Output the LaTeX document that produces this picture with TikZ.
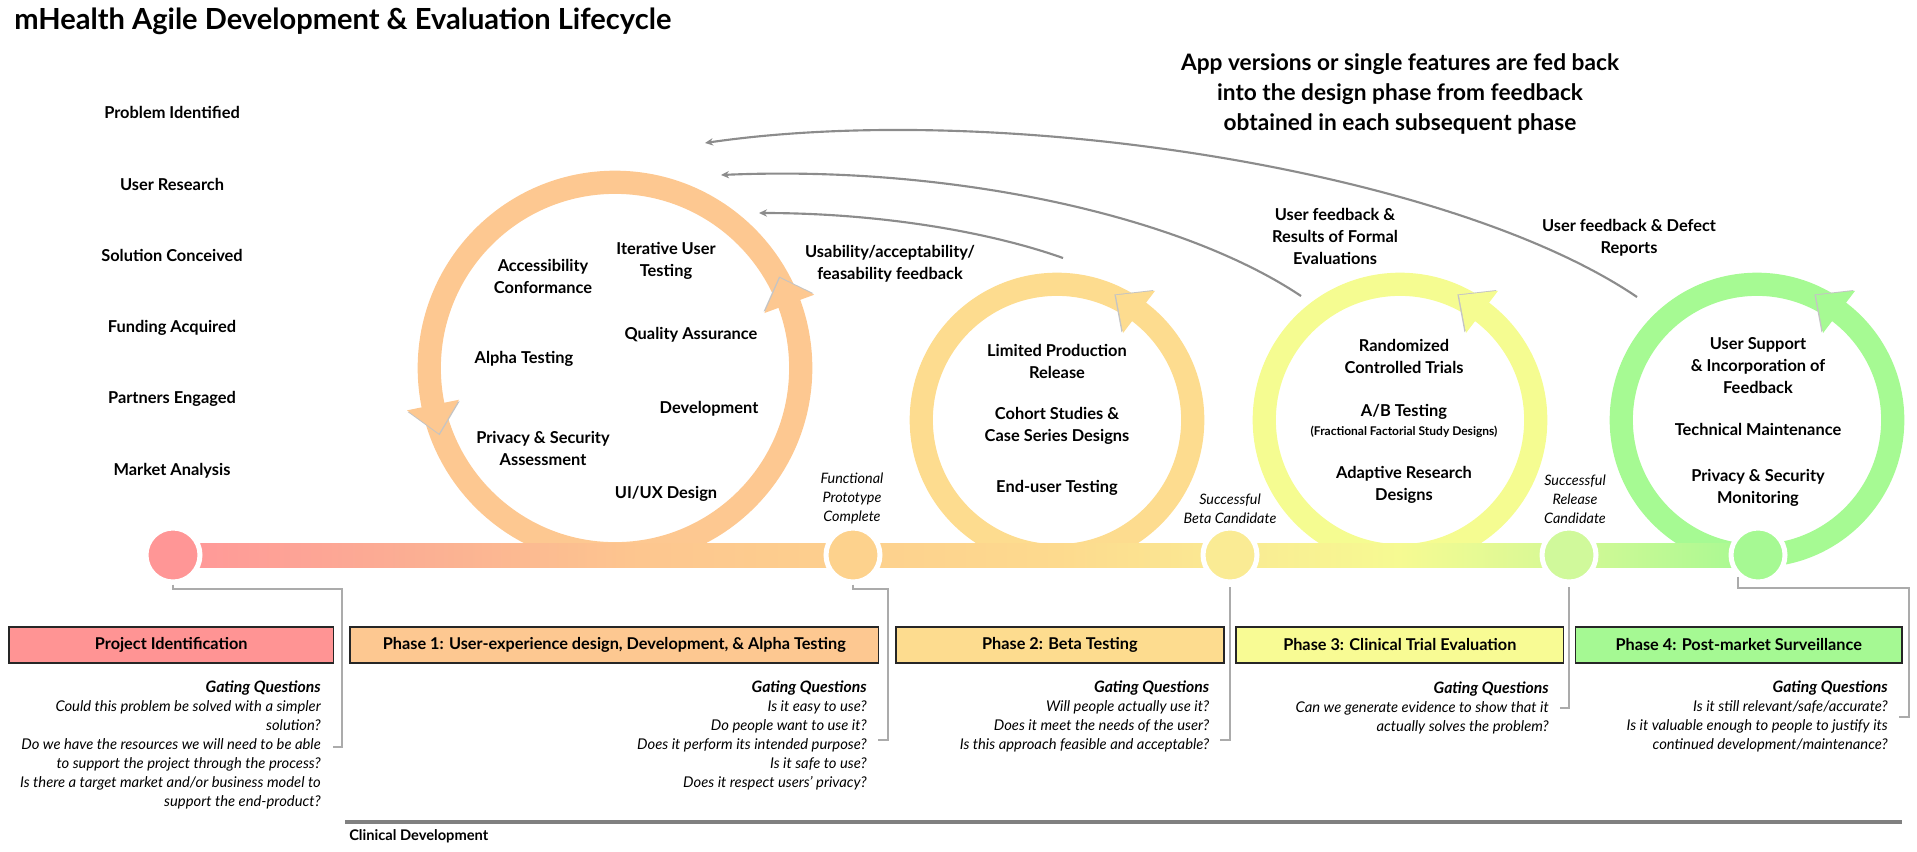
\documentclass[tikz,border=0pt]{standalone}
\usepackage{fontspec}
\setmainfont{Lato}
\usetikzlibrary{calc,arrows.meta}
\definecolor{b0}{HTML}{FF9A98}\definecolor{b1}{HTML}{FBAF93}\definecolor{b2}{HTML}{FDC68F}
\definecolor{b3}{HTML}{FDD08E}\definecolor{b4}{HTML}{FDDA8E}\definecolor{b5}{HTML}{FAEA93}
\definecolor{b6}{HTML}{F6FA92}\definecolor{b7}{HTML}{D4F996}\definecolor{b8}{HTML}{A8F992}
\definecolor{r1}{HTML}{FDC891}\definecolor{r2}{HTML}{FDDC8F}\definecolor{r3}{HTML}{F5FC91}\definecolor{r4}{HTML}{A6FA93}
\definecolor{m1}{HTML}{FF9696}\definecolor{m2}{HTML}{FDD28D}\definecolor{m3}{HTML}{FAEB94}\definecolor{m4}{HTML}{D0F99B}\definecolor{m5}{HTML}{A6F993}
\definecolor{bx0}{HTML}{FF9494}\definecolor{bx1}{HTML}{FDC891}\definecolor{bx2}{HTML}{FDDC8F}\definecolor{bx3}{HTML}{F8FB94}\definecolor{bx4}{HTML}{A5F993}
\definecolor{shad}{HTML}{C4C4C4}
\pgfdeclarehorizontalshading{barshade}{100bp}{color(0bp)=(b0); color(25.2bp)=(b0); color(32.2bp)=(b1); color(39.2bp)=(b2); color(46bp)=(b3); color(52.6bp)=(b4); color(58.1bp)=(b5); color(63.5bp)=(b6); color(69bp)=(b7); color(74.7bp)=(b8); color(100bp)=(b8)}
\newcommand\ringhead[8]{% center, base angle, outer r, inner r, tip angle, tip r, colour, shadow dir
  \fill[shad] ($(#1)+(#8:1.3pt)+(#2:#3)$) -- ($(#1)+(#8:1.3pt)+(#5:#6)$) -- ($(#1)+(#8:1.3pt)+(#2:#4)$) -- cycle;
  \fill[#7] ($(#1)+(#2:#3)$) -- ($(#1)+(#5:#6)$) -- ($(#1)+(#2:#4)$) -- cycle;}
\newcommand\gq{{\bfseries\fontsize{11.8}{14.25}\selectfont Gating Questions}}
\tikzset{
  lab/.style={font=\bfseries\fontsize{12.3}{16.5}\selectfont, align=center, inner sep=0pt},
  small/.style={font=\bfseries\fontsize{9}{11}\selectfont, align=center, inner sep=0pt},
  gate/.style={font=\itshape\fontsize{11.1}{14.25}\selectfont, align=right, inner sep=0pt, anchor=east},
  mile/.style={font=\itshape\fontsize{10.8}{14.25}\selectfont, align=center, inner sep=0pt},
  phasebox/.style={draw=black!85, line width=1.1pt, minimum height=27pt, inner sep=0pt, font=\bfseries\fontsize{12.2}{15}\selectfont},
  conn/.style={draw=black!33, line width=1.5pt},
  fb/.style={draw=black!45, line width=1.6pt, -{Stealth[length=6pt,width=5.5pt]}},
  milestone/.style={circle, draw=white, line width=3.75pt, minimum size=40.5pt, inner sep=0pt},
  ring/.style={line width=17.4pt},
}
\begin{document}
\begin{tikzpicture}[x=0.75pt,y=-0.75pt]
\useasboundingbox (0,0) rectangle (1917,851);
% ring centres
\coordinate (c1) at (615,368);
\coordinate (c2) at (1057,420);
\coordinate (c3) at (1400,420);
\coordinate (c4) at (1757,420);
% rings
\draw[ring,r1] (c1) circle[radius=139.3pt];
\draw[ring,r2] (c2) circle[radius=101.8pt];
\draw[ring,r3] (c3) circle[radius=101.8pt];
\draw[ring,r4] (c4) circle[radius=101.8pt];
\ringhead{c1}{20.2}{159.2pt}{119.4pt}{28.6}{140.9pt}{r1}{118.6}
\ringhead{c1}{191.5}{159.2pt}{119.4pt}{200.4}{140.9pt}{r1}{290.4}
\ringhead{c2}{52.8}{121.7pt}{81.9pt}{64.7}{103.5pt}{r2}{154.7}
\ringhead{c3}{52.8}{121.7pt}{81.9pt}{64.7}{103.5pt}{r3}{154.7}
\ringhead{c4}{52.8}{121.7pt}{81.9pt}{64.7}{103.5pt}{r4}{154.7}
% timeline bar
\shade[shading=barshade] (195,543) rectangle (1758,567);
% milestone nodes
\coordinate (k0) at (342,589);
\coordinate (t0) at (333,747);
\coordinate (k1) at (887.5,589);
\coordinate (t1) at (877.5,740);
\coordinate (t2) at (1220,740);
\coordinate (t3) at (1560,708);
\coordinate (k4) at (1909,588);
\coordinate (t4) at (1899,717);
\node[milestone, fill=m1] (n1) at (173,555) {};
\node[milestone, fill=m2] (n2) at (853,555) {};
\node[milestone, fill=m3] (n3) at (1230,555) {};
\node[milestone, fill=m4] (n4) at (1569,555) {};
\node[milestone, fill=m5] (n5) at (1758,555) {};
\draw[conn] (n1.south) |- (k0) |- (t0);
\draw[conn] (n2.south) |- (k1) |- (t1);
\draw[conn] ([yshift=-2pt]n3.south) |- (t2);
\draw[conn] ([yshift=-2pt]n4.south) |- (t3);
\draw[conn] (n5.228) |- (k4) |- (t4);
% title
\node[anchor=base west, font=\bfseries\fontsize{21.8}{26}\selectfont, inner sep=0pt] (title) at (14,29) {mHealth Agile Development \& Evaluation Lifecycle};
% left labels
\node[lab] (l1) at (172,112.7) {Problem Identified};
\node[lab] (l2) at (172,184) {User Research};
\node[lab] (l3) at (172,255.7) {Solution Conceived};
\node[lab] (l4) at (172,327.7) {Funding Acquired};
\node[lab] (l5) at (172,399) {Partners Engaged};
\node[lab] (l6) at (172,470.7) {Market Analysis};
% ring 1 texts
\node[lab] (a1) at (543,276) {Accessibility\\Conformance};
\node[lab] (a2) at (666,261) {Iterative User\\Testing};
\node[lab] (a3) at (691,335) {Quality Assurance};
\node[lab] (a4) at (524,359) {Alpha Testing};
\node[lab] (a5) at (709,409) {Development};
\node[lab] (a6) at (543,448) {Privacy \& Security\\Assessment};
\node[lab] (a7) at (666,494) {UI/UX Design};
\node[lab] (fbl1) at (890,264) {Usability/acceptability/\\feasability feedback};
% ring 2 texts
\node[lab] (p1) at (1057,361) {Limited Production\\Release};
\node[lab] (p2) at (1057,426) {Cohort Studies \&\\Case Series Designs};
\node[lab] (p3) at (1057,488) {End-user Testing};
% ring 3 texts
\node[lab] (q1) at (1404,356) {Randomized\\Controlled Trials};
\node[lab] (q2) at (1404,412) {A/B Testing};
\node[small] (q3) at (1404,432) {(Fractional Factorial Study Designs)};
\node[lab] (q4) at (1404,485) {Adaptive Research\\Designs};
% ring 4 texts
\node[lab] (s1) at (1758,366) {User Support\\\& Incorporation of\\Feedback};
\node[lab] (s2) at (1758,429) {Technical Maintenance};
\node[lab] (s3) at (1758,488) {Privacy \& Security\\Monitoring};
% feedback labels
\node[lab] (fbl2) at (1335,236) {User feedback \&\\Results of Formal\\Evaluations};
\node[lab] (fbl3) at (1629,238) {User feedback \& Defect\\Reports};
\node[font=\bfseries\fontsize{17}{22.3}\selectfont, align=center, inner sep=0pt] (app) at (1400,94) {App versions or single features are fed back\\into the design phase from feedback\\obtained in each subsequent phase};
% feedback curves
\coordinate (fa0) at (1637,297); \coordinate (fa1) at (705,143);
\coordinate (fm0) at (1301,296); \coordinate (fm1) at (721,175);
\coordinate (fi0) at (1063,258); \coordinate (fi1) at (759,213);
\draw[fb] (fa0) .. controls (1450,170) and (1000,100) .. (fa1);
\draw[fb] (fm0) .. controls (1180,215) and (950,165) .. (fm1);
\draw[fb] (fi0) .. controls (990,232) and (880,213) .. (fi1);
% milestone labels
\node[mile] (ml2) at (852,498) {Functional\\Prototype\\Complete};
\node[mile] (ml3) at (1230,508.5) {Successful\\Beta Candidate};
\node[mile] (ml4) at (1575,499.5) {Successful\\Release\\Candidate};
% phase boxes
\node[phasebox, fill=bx0, minimum width=243.4pt] (ph0) at (171.25,645) {Project Identification};
\node[phasebox, fill=bx1, minimum width=396.4pt] (ph1) at (614.3,645) {Phase 1: User-experience design, Development, \& Alpha Testing};
\node[phasebox, fill=bx2, minimum width=245.8pt] (ph2) at (1059.9,645) {Phase 2: Beta Testing};
\node[phasebox, fill=bx3, minimum width=245.7pt] (ph3) at (1399.8,645) {Phase 3: Clinical Trial Evaluation};
\node[phasebox, fill=bx4, minimum width=244.9pt] (ph4) at (1738.75,645) {Phase 4: Post-market Surveillance};
% gating questions
\node[gate] (g0) at (321,745) {\gq\\Could this problem be solved with a simpler\\solution?\\Do we have the resources we will need to be able\\to support the project through the process?\\Is there a target market and/or business model to\\support the end-product?};
\node[gate] (g1) at (867,735.5) {\gq\\Is it easy to use?\\Do people want to use it?\\Does it perform its intended purpose?\\Is it safe to use?\\Does it respect users’ privacy?};
\node[gate] (g2) at (1209.5,716.5) {\gq\\Will people actually use it?\\Does it meet the needs of the user?\\Is this approach feasible and acceptable?};
\node[gate] (g3) at (1549,707.5) {\gq\\Can we generate evidence to show that it\\actually solves the problem?};
\node[gate] (g4) at (1888,716.5) {\gq\\Is it still relevant/safe/accurate?\\Is it valuable enough to people to justify its\\continued development/maintenance?};
% clinical development
\coordinate (cd0) at (345,822); \coordinate (cd1) at (1902,822);
\draw[draw=black!50, line width=2.4pt] (cd0) -- (cd1);
\node[anchor=west, font=\bfseries\fontsize{11}{13}\selectfont, inner sep=0pt] (cdl) at (349,836) {Clinical Development};
\end{tikzpicture}
\end{document}
